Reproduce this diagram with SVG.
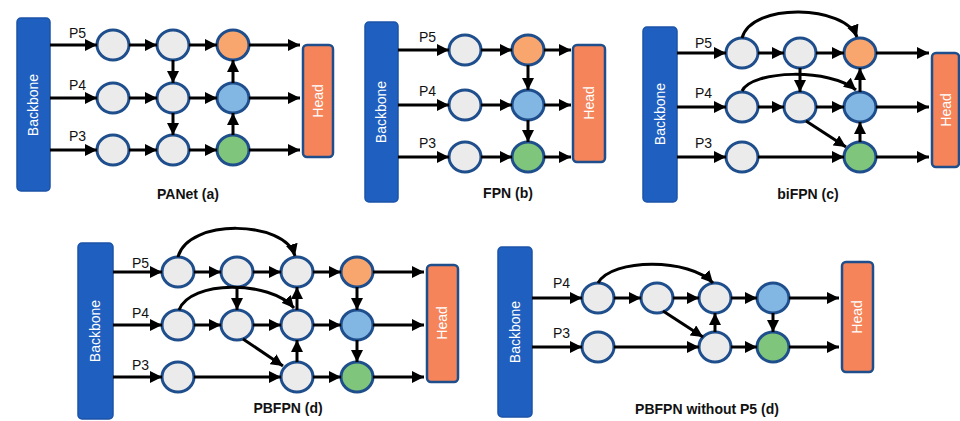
<svg xmlns="http://www.w3.org/2000/svg" width="960" height="421" viewBox="0 0 960 421">
<defs>
<marker id="ah" viewBox="0 0 10 10" refX="10" refY="5" markerWidth="12" markerHeight="12" markerUnits="userSpaceOnUse" orient="auto">
<path d="M0,0 L10,5 L0,10 z" fill="#000"/>
</marker>
<style>
.bb{fill:#1f5fbf;stroke:#1b53a8;stroke-width:1.5}
.hd{fill:#f5845a;stroke:#1f4e8c;stroke-width:2.5}
.n{stroke:#1f4e8c;stroke-width:3}
.g{fill:#ebebeb}.o{fill:#f9a56e}.b{fill:#82b6e3}.gr{fill:#7fc57c}
.e{stroke:#000;stroke-width:3;fill:none;marker-end:url(#ah)}
.lb{font-family:"Liberation Sans",Arial,sans-serif;font-size:14px;fill:#111}
.tt{font-family:"Liberation Sans",Arial,sans-serif;font-size:14px;font-weight:bold;fill:#111;text-anchor:middle}
.wt{font-family:"Liberation Sans",Arial,sans-serif;font-size:14px;fill:#fff;text-anchor:middle}
</style>
</defs>
<rect width="960" height="421" fill="#fff"/>

<!-- Panel a: PANet -->
<g id="a-backbone"><rect class="bb" x="17" y="18" width="33" height="173" rx="4"/><text class="wt" transform="translate(38,105) rotate(-90)">Backbone</text></g>
<g id="a-head"><rect class="hd" x="303" y="45" width="30" height="112" rx="4"/><text class="wt" transform="translate(323,101) rotate(-90)">Head</text></g>
<g id="a-n1"><ellipse class="n g" cx="113" cy="45" rx="16" ry="15"/></g>
<g id="a-n2"><ellipse class="n g" cx="173" cy="45" rx="16" ry="15"/></g>
<g id="a-n3"><ellipse class="n o" cx="233" cy="45" rx="16" ry="15"/></g>
<g id="a-n4"><ellipse class="n g" cx="113" cy="98" rx="16" ry="15"/></g>
<g id="a-n5"><ellipse class="n g" cx="173" cy="98" rx="16" ry="15"/></g>
<g id="a-n6"><ellipse class="n b" cx="233" cy="98" rx="16" ry="15"/></g>
<g id="a-n7"><ellipse class="n g" cx="113" cy="150" rx="16" ry="15"/></g>
<g id="a-n8"><ellipse class="n g" cx="173" cy="150" rx="16" ry="15"/></g>
<g id="a-n9"><ellipse class="n gr" cx="233" cy="150" rx="16" ry="15"/></g>
<text class="lb" x="69" y="38">P5</text><text class="lb" x="69" y="90">P4</text><text class="lb" x="69" y="141">P3</text>
<text class="tt" x="188" y="199">PANet (a)</text>

<!-- Panel b: FPN -->
<g id="b-backbone"><rect class="bb" x="365" y="22" width="33" height="180" rx="4"/><text class="wt" transform="translate(386,112) rotate(-90)">Backbone</text></g>
<g id="b-head"><rect class="hd" x="573" y="45" width="32" height="117" rx="4"/><text class="wt" transform="translate(594,103) rotate(-90)">Head</text></g>
<g id="b-n1"><ellipse class="n g" cx="465" cy="50" rx="16" ry="15"/></g>
<g id="b-n2"><ellipse class="n o" cx="528" cy="50" rx="16" ry="15"/></g>
<g id="b-n3"><ellipse class="n g" cx="465" cy="105" rx="16" ry="15"/></g>
<g id="b-n4"><ellipse class="n b" cx="528" cy="105" rx="16" ry="15"/></g>
<g id="b-n5"><ellipse class="n g" cx="465" cy="157" rx="16" ry="15"/></g>
<g id="b-n6"><ellipse class="n gr" cx="528" cy="157" rx="16" ry="15"/></g>
<text class="lb" x="419" y="42">P5</text><text class="lb" x="419" y="96">P4</text><text class="lb" x="419" y="148">P3</text>
<text class="tt" x="508" y="198">FPN (b)</text>

<!-- Panel c: biFPN -->
<g id="c-backbone"><rect class="bb" x="643" y="27" width="34" height="175" rx="4"/><text class="wt" transform="translate(665,114) rotate(-90)">Backbone</text></g>
<g id="c-head"><rect class="hd" x="932" y="53" width="27" height="114" rx="4"/><text class="wt" transform="translate(951,110) rotate(-90)">Head</text></g>
<g id="c-n1"><ellipse class="n g" cx="742" cy="53" rx="16" ry="15"/></g>
<g id="c-n2"><ellipse class="n g" cx="800" cy="53" rx="16" ry="15"/></g>
<g id="c-n3"><ellipse class="n o" cx="860" cy="53" rx="16" ry="15"/></g>
<g id="c-n4"><ellipse class="n g" cx="742" cy="107" rx="16" ry="15"/></g>
<g id="c-n5"><ellipse class="n g" cx="800" cy="107" rx="16" ry="15"/></g>
<g id="c-n6"><ellipse class="n b" cx="860" cy="107" rx="16" ry="15"/></g>
<g id="c-n7"><ellipse class="n g" cx="742" cy="157" rx="16" ry="15"/></g>
<g id="c-n8"><ellipse class="n gr" cx="860" cy="157" rx="16" ry="15"/></g>
<text class="lb" x="695" y="48">P5</text><text class="lb" x="695" y="98">P4</text><text class="lb" x="695" y="148">P3</text>
<text class="tt" x="808" y="199">biFPN (c)</text>

<!-- Panel d: PBFPN -->
<g id="d-backbone"><rect class="bb" x="78" y="243" width="35" height="176" rx="4"/><text class="wt" transform="translate(100,331) rotate(-90)">Backbone</text></g>
<g id="d-head"><rect class="hd" x="427" y="265" width="31" height="117" rx="4"/><text class="wt" transform="translate(447,323) rotate(-90)">Head</text></g>
<g id="d-n1"><ellipse class="n g" cx="178" cy="272" rx="16" ry="15"/></g>
<g id="d-n2"><ellipse class="n g" cx="237" cy="272" rx="16" ry="15"/></g>
<g id="d-n3"><ellipse class="n g" cx="297" cy="272" rx="16" ry="15"/></g>
<g id="d-n4"><ellipse class="n o" cx="357" cy="272" rx="16" ry="15"/></g>
<g id="d-n5"><ellipse class="n g" cx="178" cy="325" rx="16" ry="15"/></g>
<g id="d-n6"><ellipse class="n g" cx="237" cy="325" rx="16" ry="15"/></g>
<g id="d-n7"><ellipse class="n g" cx="297" cy="325" rx="16" ry="15"/></g>
<g id="d-n8"><ellipse class="n b" cx="357" cy="325" rx="16" ry="15"/></g>
<g id="d-n9"><ellipse class="n g" cx="178" cy="377" rx="16" ry="15"/></g>
<g id="d-n10"><ellipse class="n g" cx="297" cy="377" rx="16" ry="15"/></g>
<g id="d-n11"><ellipse class="n gr" cx="357" cy="377" rx="16" ry="15"/></g>
<text class="lb" x="132" y="268">P5</text><text class="lb" x="132" y="318">P4</text><text class="lb" x="132" y="370">P3</text>
<text class="tt" x="288" y="413">PBFPN (d)</text>

<!-- Panel e: PBFPN without P5 -->
<g id="e-backbone"><rect class="bb" x="498" y="247" width="34" height="170" rx="4"/><text class="wt" transform="translate(520,332) rotate(-90)">Backbone</text></g>
<g id="e-head"><rect class="hd" x="842" y="262" width="31" height="110" rx="4"/><text class="wt" transform="translate(862,317) rotate(-90)">Head</text></g>
<g id="e-n1"><ellipse class="n g" cx="598" cy="298" rx="16" ry="15"/></g>
<g id="e-n2"><ellipse class="n g" cx="657" cy="298" rx="16" ry="15"/></g>
<g id="e-n3"><ellipse class="n g" cx="715" cy="298" rx="16" ry="15"/></g>
<g id="e-n4"><ellipse class="n b" cx="773" cy="298" rx="16" ry="15"/></g>
<g id="e-n5"><ellipse class="n g" cx="598" cy="347" rx="16" ry="15"/></g>
<g id="e-n6"><ellipse class="n g" cx="715" cy="347" rx="16" ry="15"/></g>
<g id="e-n7"><ellipse class="n gr" cx="773" cy="347" rx="16" ry="15"/></g>
<text class="lb" x="553" y="288">P4</text><text class="lb" x="553" y="338">P3</text>
<text class="tt" x="707" y="414">PBFPN without P5 (d)</text>

<g id="connectors">
<!-- a -->
<line class="e" x1="50" y1="45" x2="97" y2="45"/><line class="e" x1="50" y1="98" x2="97" y2="98"/><line class="e" x1="50" y1="150" x2="97" y2="150"/>
<line class="e" x1="129" y1="45" x2="157" y2="45"/><line class="e" x1="129" y1="98" x2="157" y2="98"/><line class="e" x1="129" y1="150" x2="157" y2="150"/>
<line class="e" x1="189" y1="45" x2="217" y2="45"/><line class="e" x1="189" y1="98" x2="217" y2="98"/><line class="e" x1="189" y1="150" x2="217" y2="150"/>
<line class="e" x1="249" y1="45" x2="300" y2="45"/><line class="e" x1="249" y1="98" x2="300" y2="98"/><line class="e" x1="249" y1="150" x2="300" y2="150"/>
<line class="e" x1="173" y1="60" x2="173" y2="83"/><line class="e" x1="173" y1="113" x2="173" y2="135"/>
<line class="e" x1="233" y1="135" x2="233" y2="113"/><line class="e" x1="233" y1="83" x2="233" y2="60"/>
<!-- b -->
<line class="e" x1="398" y1="50" x2="449" y2="50"/><line class="e" x1="398" y1="105" x2="449" y2="105"/><line class="e" x1="398" y1="157" x2="449" y2="157"/>
<line class="e" x1="481" y1="50" x2="512" y2="50"/><line class="e" x1="481" y1="105" x2="512" y2="105"/><line class="e" x1="481" y1="157" x2="512" y2="157"/>
<line class="e" x1="544" y1="50" x2="571" y2="50"/><line class="e" x1="544" y1="105" x2="571" y2="105"/><line class="e" x1="544" y1="157" x2="571" y2="157"/>
<line class="e" x1="528" y1="65" x2="528" y2="90"/><line class="e" x1="528" y1="120" x2="528" y2="142"/>
<!-- c -->
<line class="e" x1="677" y1="53" x2="726" y2="53"/><line class="e" x1="677" y1="107" x2="726" y2="107"/><line class="e" x1="677" y1="157" x2="726" y2="157"/>
<line class="e" x1="758" y1="53" x2="784" y2="53"/><line class="e" x1="758" y1="107" x2="784" y2="107"/>
<line class="e" x1="816" y1="53" x2="844" y2="53"/><line class="e" x1="816" y1="107" x2="844" y2="107"/>
<line class="e" x1="758" y1="157" x2="844" y2="157"/>
<line class="e" x1="876" y1="53" x2="929" y2="53"/><line class="e" x1="876" y1="107" x2="929" y2="107"/><line class="e" x1="876" y1="157" x2="929" y2="157"/>
<line class="e" x1="800" y1="68" x2="800" y2="92"/>
<line class="e" x1="860" y1="142" x2="860" y2="122"/><line class="e" x1="860" y1="92" x2="860" y2="68"/>
<line class="e" x1="806" y1="121" x2="846" y2="147"/>
<path class="e" d="M742,38 C752,2 845,5 857,37"/>
<path class="e" d="M742,91 C752,70 830,68 856,90"/>
<!-- d -->
<line class="e" x1="113" y1="272" x2="162" y2="272"/><line class="e" x1="113" y1="325" x2="162" y2="325"/><line class="e" x1="113" y1="377" x2="162" y2="377"/>
<line class="e" x1="194" y1="272" x2="221" y2="272"/><line class="e" x1="194" y1="325" x2="221" y2="325"/>
<line class="e" x1="253" y1="272" x2="281" y2="272"/><line class="e" x1="253" y1="325" x2="281" y2="325"/>
<line class="e" x1="194" y1="377" x2="281" y2="377"/>
<line class="e" x1="313" y1="272" x2="341" y2="272"/><line class="e" x1="313" y1="325" x2="341" y2="325"/><line class="e" x1="313" y1="377" x2="341" y2="377"/>
<line class="e" x1="373" y1="272" x2="424" y2="272"/><line class="e" x1="373" y1="325" x2="424" y2="325"/><line class="e" x1="373" y1="377" x2="424" y2="377"/>
<line class="e" x1="237" y1="287" x2="237" y2="310"/>
<line class="e" x1="297" y1="362" x2="297" y2="340"/><line class="e" x1="297" y1="310" x2="297" y2="287"/>
<line class="e" x1="357" y1="287" x2="357" y2="310"/><line class="e" x1="357" y1="340" x2="357" y2="362"/>
<line class="e" x1="243" y1="339" x2="283" y2="366"/>
<path class="e" d="M178,257 C188,218 285,220 295,256"/>
<path class="e" d="M179,310 C190,280 270,280 294,308"/>
<!-- e -->
<line class="e" x1="532" y1="298" x2="582" y2="298"/><line class="e" x1="532" y1="347" x2="582" y2="347"/>
<line class="e" x1="614" y1="298" x2="641" y2="298"/><line class="e" x1="673" y1="298" x2="699" y2="298"/>
<line class="e" x1="614" y1="347" x2="699" y2="347"/>
<line class="e" x1="731" y1="298" x2="757" y2="298"/><line class="e" x1="731" y1="347" x2="757" y2="347"/>
<line class="e" x1="789" y1="298" x2="839" y2="298"/><line class="e" x1="789" y1="347" x2="839" y2="347"/>
<line class="e" x1="715" y1="332" x2="715" y2="313"/>
<line class="e" x1="773" y1="313" x2="773" y2="332"/>
<line class="e" x1="663" y1="311" x2="703" y2="337"/>
<path class="e" d="M598,283 C612,258 690,258 713,283"/>
</g>
</svg>
